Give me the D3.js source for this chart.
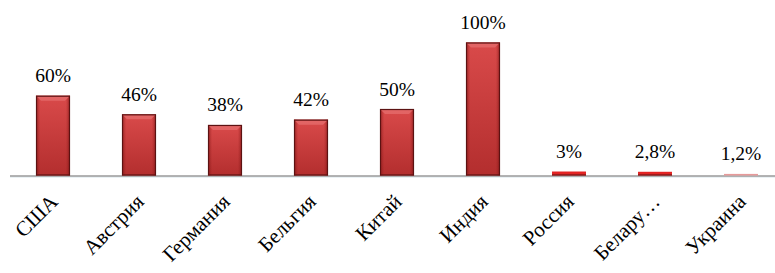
<!DOCTYPE html>
<html><head><meta charset="utf-8">
<script src="https://cdn.jsdelivr.net/npm/d3@7"></script>
</head><body style="margin:0">
<script>
const categories = ["США","Австрия","Германия","Бельгия","Китай","Индия","Россия","Белару…","Украина"];
const values = [60,46,38,42,50,100,3,2.8,1.2];
const valueLabels = ["60%","46%","38%","42%","50%","100%","3%","2,8%","1,2%"];

const W = 775, H = 273;
const svg = d3.select("body").append("svg").attr("width", W).attr("height", H)
  .attr("font-family", "Liberation Serif").style("font-family", '"Liberation Serif"');

const x = d3.scaleBand().domain(categories).range([10, 784]).paddingInner(0.605).paddingOuter(0.3025);
const y = d3.scaleLinear().domain([0, 100]).range([175.5, 42.5]);

const defs = svg.append("defs");
const g1 = defs.append("linearGradient").attr("id","barg").attr("x1",0).attr("y1",0).attr("x2",0).attr("y2",1);
g1.append("stop").attr("offset","0%").attr("stop-color","#d94a4a");
g1.append("stop").attr("offset","100%").attr("stop-color","#b32e2e");
const g2 = defs.append("linearGradient").attr("id","barh").attr("x1",0).attr("y1",0).attr("x2",1).attr("y2",0);
g2.append("stop").attr("offset","0%").attr("stop-color","#7a1010").attr("stop-opacity",0.55);
g2.append("stop").attr("offset","12%").attr("stop-color","#7a1010").attr("stop-opacity",0);
g2.append("stop").attr("offset","88%").attr("stop-color","#7a1010").attr("stop-opacity",0);
g2.append("stop").attr("offset","100%").attr("stop-color","#7a1010").attr("stop-opacity",0.55);

// axis baseline
svg.append("line").attr("x1",10).attr("x2",W).attr("y1",y(0)+1.5).attr("y2",y(0)+1.5)
  .attr("stroke","#d6e4ea").attr("stroke-width",1);
svg.append("line").attr("x1",10).attr("x2",W).attr("y1",y(0)+0.5).attr("y2",y(0)+0.5)
  .attr("stroke","#9a9a9a").attr("stroke-width",1.5);

const bars = svg.append("g").selectAll("g").data(categories).join("g");
bars.each(function(c, i){
  const g = d3.select(this);
  const v = values[i];
  const x0 = x(c), bw = x.bandwidth();
  const yt = y(v), h = y(0) - yt;
  if (h > 8) {
    g.append("rect").attr("x",x0).attr("y",yt).attr("width",bw).attr("height",h)
      .attr("fill","url(#barg)");
    g.append("rect").attr("x",x0).attr("y",yt).attr("width",bw).attr("height",h)
      .attr("fill","url(#barh)");
    const b = 5;
    g.append("path").attr("d",`M${x0},${yt}L${x0+bw},${yt}L${x0+bw-b},${yt+b}L${x0+b},${yt+b}Z`)
      .attr("fill","#e46a6a").attr("opacity",0.85);
    g.append("rect").attr("x",x0+0.5).attr("y",yt+0.5).attr("width",bw-1).attr("height",h-1)
      .attr("fill","none").attr("stroke","#5c1212").attr("stroke-width",1.2);
  } else if (v >= 2) {
    g.append("rect").attr("x",x0).attr("y",yt).attr("width",bw).attr("height",h)
      .attr("fill","#e32424");
    g.append("rect").attr("x",x0).attr("y",y(0)-1).attr("width",bw).attr("height",1)
      .attr("fill","#5c1212");
  } else {
    g.append("rect").attr("x",x0).attr("y",yt).attr("width",bw).attr("height",h)
      .attr("fill","#e79a9a");
  }
});

// value labels
svg.selectAll("text.val").data(categories).join("text").attr("class","val")
  .attr("x", c => x(c) + x.bandwidth()/2)
  .attr("y", (c,i) => y(values[i]) - 13.5)
  .attr("text-anchor","middle")
  .attr("font-family","Liberation Serif")
  .style("font-family", '"Liberation Serif"')
  .attr("font-size",19.5)
  .text((c,i) => valueLabels[i]);

// category labels
svg.selectAll("text.cat").data(categories).join("text").attr("class","cat")
  .attr("transform", c => `translate(${x(c) + x.bandwidth()/2 + 6},203) rotate(-45)`)
  .attr("text-anchor","end")
  .attr("font-family","Liberation Serif")
  .style("font-family", '"Liberation Serif"')
  .attr("font-size",21)
  .text(c => c);
</script>
</body></html>
